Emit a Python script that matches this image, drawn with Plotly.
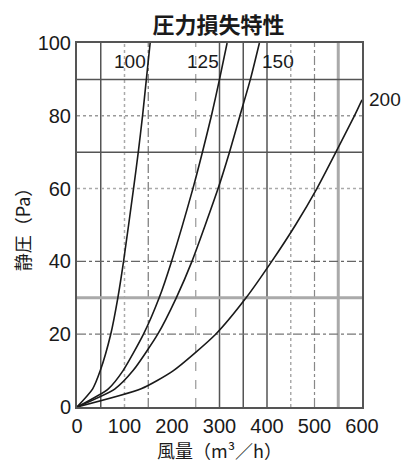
import plotly.graph_objects as go

# 風量 (m3/h) と 静圧 (Pa) の読み取り値
pa_100 = [0, 5, 10, 20, 30, 40, 60, 70, 80, 90, 100]
q_100 = [0, 33, 49, 71, 86, 98, 119, 129, 138, 146, 154]

pa_125 = [0, 5, 10, 20, 30, 40, 60, 70, 80, 90, 100]
q_125 = [0, 66, 97, 140, 173, 199, 244, 264, 283, 300, 316]

pa_150 = [0, 5, 10, 20, 30, 40, 60, 70, 80, 90, 100]
q_150 = [0, 80, 118, 170, 209, 242, 297, 321, 343, 365, 384]

pa_200 = [0, 5, 10, 20, 30, 40, 50, 60, 70, 80, 84.4]
q_200 = [0, 135, 203, 292, 356, 410, 460, 505, 545, 584, 600]

curve_names = ["100", "125", "150", "200"]
label_q = [112, 265, 423, 648]
label_pa = [94.8, 94.8, 94.8, 84.4]

q_range = [0, 600]
pa_range = [0, 100]

font_jp = "Noto Sans CJK JP"
font_num = "Liberation Sans"

fig = go.Figure()
for q, pa, name in zip([q_100, q_125, q_150, q_200], [pa_100, pa_125, pa_150, pa_200], curve_names):
    fig.add_trace(go.Scatter(x=q, y=pa, mode="lines", name=name,
                             line=dict(color="#1a1a1a", width=1.6, shape="spline", smoothing=0.6),
                             showlegend=False))

# 曲線ラベル（枠外の「200」も消えないよう paper 座標に換算）
for name, lq, lp in zip(curve_names, label_q, label_pa):
    fig.add_annotation(x=(lq - q_range[0]) / (q_range[1] - q_range[0]),
                       y=(lp - pa_range[0]) / (pa_range[1] - pa_range[0]),
                       xref="paper", yref="paper", xanchor="center", yanchor="middle",
                       text=name, showarrow=False,
                       font=dict(family=font_num, size=19, color="#1a1a1a"))

# 方眼（スキャン原図の線種を再現）
vgrid = [(50, "solid", "#555", 1.5), (100, "dot", "#aaa", 1.5), (150, "dashdot", "#777", 1.2),
         (250, "dash", "#999", 1.2), (300, "solid", "#555", 1.5), (350, "solid", "#555", 1.5),
         (400, "solid", "#555", 1.5), (450, "dot", "#aaa", 1.5), (500, "dashdot", "#888", 1.2),
         (550, "solid", "#aaa", 3)]
hgrid = [(20, "dashdot", "#777", 1.2), (30, "solid", "#aaa", 3), (40, "dashdot", "#666", 1.2),
         (60, "dot", "#aaa", 1.5), (70, "solid", "#555", 1.5), (80, "dot", "#999", 1.5),
         (90, "solid", "#555", 1.5)]
for v, dash, col, w in vgrid:
    fig.add_shape(type="line", x0=v, x1=v, y0=pa_range[0], y1=pa_range[1], xref="x", yref="y",
                  line=dict(color=col, width=w, dash=dash), layer="below")
for h, dash, col, w in hgrid:
    fig.add_shape(type="line", x0=q_range[0], x1=q_range[1], y0=h, y1=h, xref="x", yref="y",
                  line=dict(color=col, width=w, dash=dash), layer="below")

fig.update_layout(
    width=416, height=468,
    margin=dict(l=77, r=54, t=43, b=59),
    plot_bgcolor="white", paper_bgcolor="white",
    title=dict(text="<b>圧力損失特性</b>", x=0.525, xanchor="center", y=0.945, yanchor="middle",
               font=dict(family=font_jp, size=22, color="#1a1a1a")),
)
fig.update_xaxes(range=q_range, dtick=100, showgrid=False, zeroline=False,
                 showline=True, mirror=True, linecolor="#555", linewidth=2,
                 ticks="", tickfont=dict(family=font_num, size=20, color="#1a1a1a"),
                 title=dict(text="風量（m³／h）", standoff=6,
                            font=dict(family=font_jp, size=18, color="#1a1a1a")))
fig.update_yaxes(range=pa_range, dtick=20, showgrid=False, zeroline=False,
                 showline=True, mirror=True, linecolor="#555", linewidth=2,
                 ticks="", tickfont=dict(family=font_num, size=20, color="#1a1a1a"),
                 title=dict(text="静圧（Pa）", standoff=2,
                            font=dict(family=font_jp, size=18, color="#1a1a1a")))

# ページ既定の余白を消して 416x468 にぴったり収める
fig.write_html("out.html", config={"displayModeBar": False},
               post_script="document.body.style.margin='0';")
